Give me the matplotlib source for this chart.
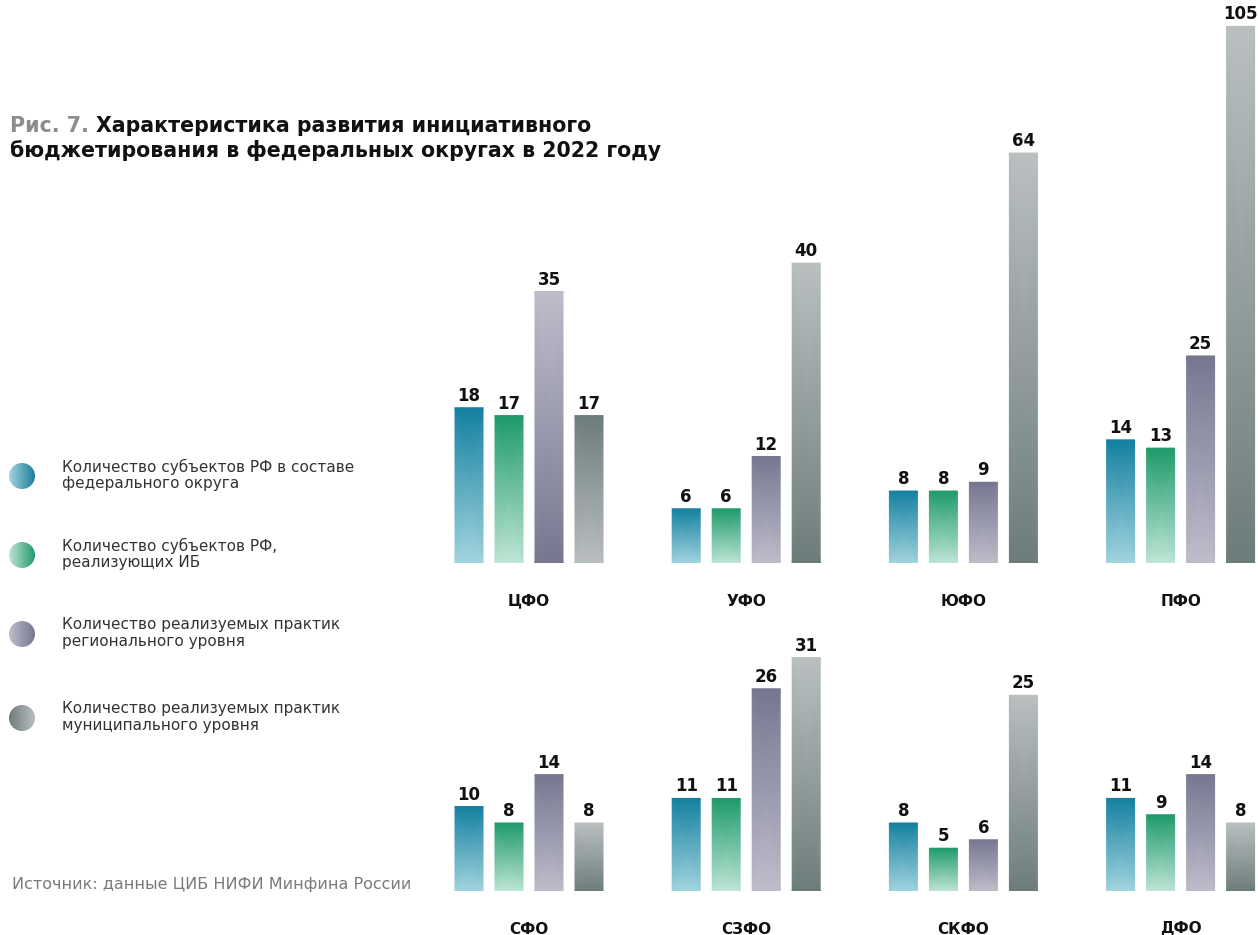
import numpy as np
import matplotlib.pyplot as plt
from matplotlib.colors import LinearSegmentedColormap
from matplotlib.patches import Circle

plt.rcParams['font.family'] = ['DejaVu Sans']

# данные
okruga_top = ["ЦФО", "УФО", "ЮФО", "ПФО"]
okruga_bottom = ["СФО", "СЗФО", "СКФО", "ДФО"]

subjects_top = [18, 6, 8, 14]
ib_top = [17, 6, 8, 13]
regional_top = [35, 12, 9, 25]
municipal_top = [17, 40, 64, 105]

subjects_bottom = [10, 11, 8, 11]
ib_bottom = [8, 11, 5, 9]
regional_bottom = [14, 26, 6, 14]
municipal_bottom = [8, 31, 25, 8]

legend_labels = [
    "Количество субъектов РФ в составе\nфедерального округа",
    "Количество субъектов РФ,\nреализующих ИБ",
    "Количество реализуемых практик\nрегионального уровня",
    "Количество реализуемых практик\nмуниципального уровня",
]

# цвета градиентов (низ, верх)
grad = [
    ("#a3d4df", "#13809f"),
    ("#bfe5d6", "#1e9a6a"),
    ("#bdbdcb", "#767690"),
    ("#6c7c7b", "#babfc0"),
]
flipped = {"ЦФО": [2, 3]}  # в ЦФО градиент 3 и 4 рядов перевёрнут
legend_grad = [
    ("#a3d4df", "#1b7d9b"),
    ("#bfe5d6", "#23996a"),
    ("#bdbdcb", "#777790"),
    ("#6c7c7b", "#babfc0"),
]

W, H = 1258, 935
fig = plt.figure(figsize=(W / 100, H / 100), dpi=100)


def add_ax(x0, y0, x1, y1):
    return fig.add_axes([x0 / W, 1 - y1 / H, (x1 - x0) / W, (y1 - y0) / H])


LW = 30  # ширина линейного участка asinh-шкалы


def draw_row(ax, names, series, px_per_unit, height_px):
    ax.set_yscale('asinh', linear_width=LW)
    ax.set_ylim(0, LW * np.sinh(height_px / px_per_unit / LW))
    ax.set_xlim(0, 818 / 40)
    ax.axis('off')
    for g, name in enumerate(names):
        x0 = 0.725 + g * 5.43
        for i, vals in enumerate(series):
            v = vals[g]
            x = x0 + i
            c_lo, c_hi = grad[i]
            if i in flipped.get(name, []):
                c_lo, c_hi = c_hi, c_lo
            cmap = LinearSegmentedColormap.from_list("g", [c_lo, c_hi])
            X = np.array([[x - 0.35, x + 0.35], [x - 0.35, x + 0.35]])
            Y = np.array([[0, 0], [v, v]])
            C = np.array([[0.0, 0.0], [1.0, 1.0]])
            ax.pcolormesh(X, Y, C, shading='gouraud', cmap=cmap, vmin=0, vmax=1)
            ax.annotate(str(v), (x, v), xytext=(0, 3), textcoords='offset pixels',
                        ha='center', va='bottom', fontsize=12, fontweight='bold',
                        color='#111111', annotation_clip=False)
        ax.annotate(name, (x0 + 1.5, 0), xytext=(0, -38), textcoords='offset pixels',
                    ha='center', va='center', fontsize=11, fontweight='bold',
                    color='#111111', annotation_clip=False)


ax_top = add_ax(440, 0, 1258, 563)
draw_row(ax_top, okruga_top, [subjects_top, ib_top, regional_top, municipal_top], 9.1, 563)

ax_bot = add_ax(440, 620, 1258, 891)
draw_row(ax_bot, okruga_bottom, [subjects_bottom, ib_bottom, regional_bottom, municipal_bottom], 8.6, 271)

# легенда
ax_leg = add_ax(0, 440, 440, 760)
ax_leg.axis('off')
leg_y = [476, 555, 634, 718]
gradient = np.linspace(0, 1, 256).reshape(1, -1)
for (c_l, c_r), cy, label in zip(legend_grad, leg_y, legend_labels):
    cmap = LinearSegmentedColormap.from_list("l", [c_l, c_r])
    im = ax_leg.imshow(gradient, cmap=cmap, extent=(22 - 13, 22 + 13, cy + 13, cy - 13),
                       aspect='auto')
    circ = Circle((22, cy), 13, transform=ax_leg.transData, facecolor='none', edgecolor='none')
    ax_leg.add_patch(circ)
    im.set_clip_path(circ)
    fig.text(62 / W, 1 - (cy - 1) / H, label, ha='left', va='center', fontsize=11,
             color='#333333', linespacing=1.1)
ax_leg.set_xlim(0, 440)
ax_leg.set_ylim(760, 440)

# заголовок
t1 = fig.text(10 / W, 1 - 132 / H, "Рис. 7. ", fontsize=14.8, fontweight='bold', color='#8c8c8c',
              va='baseline')
fig.canvas.draw()
bb = t1.get_window_extent()
fig.text(bb.x1 / W, 1 - 132 / H, "Характеристика развития инициативного", fontsize=14.8,
         fontweight='bold', color='#111111', va='baseline')
fig.text(10 / W, 1 - 157 / H, "бюджетирования в федеральных округах в 2022 году", fontsize=14.8,
         fontweight='bold', color='#111111', va='baseline')

fig.text(12 / W, 1 - 884 / H, "Источник: данные ЦИБ НИФИ Минфина России", fontsize=11.5,
         color='#7a7a7a', ha='left', va='center')

fig.savefig("out.png", dpi=100)
